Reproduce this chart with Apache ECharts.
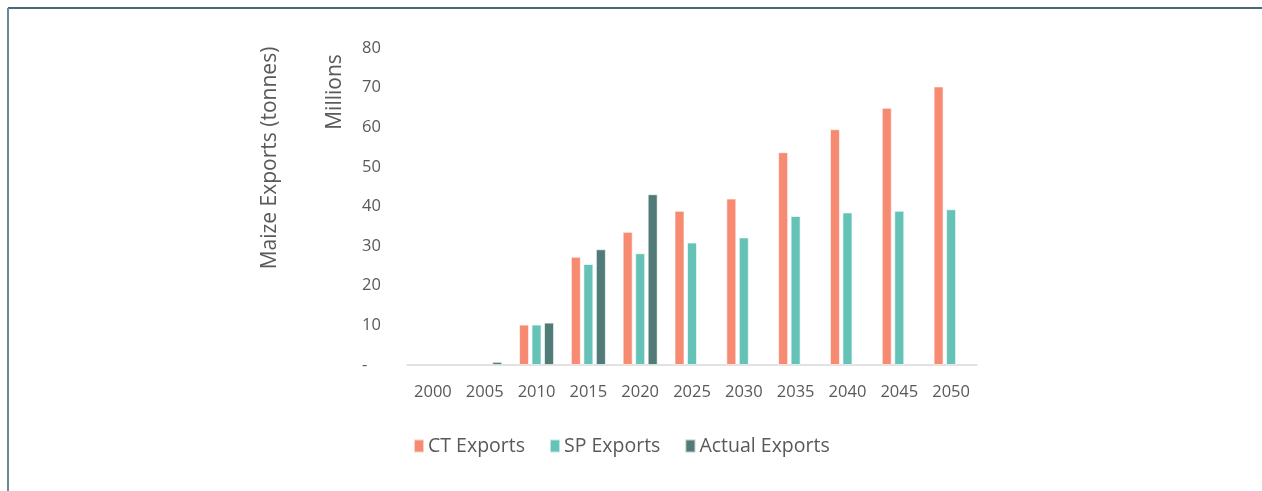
<!DOCTYPE html>
<html>
<head>
<meta charset="utf-8">
<script src="https://cdn.jsdelivr.net/npm/echarts@6/dist/echarts.min.js"></script>
<style>
  html, body { margin: 0; padding: 0; background: #fff; }
  #chart { width: 1262px; height: 491px; }
</style>
</head>
<body>
<div id="chart"></div>
<script>
var years = ['2000', '2005', '2010', '2015', '2020', '2025', '2030', '2035', '2040', '2045', '2050'];
var ctExports = [null, null, 10.2, 27.3, 33.6, 38.9, 42.0, 53.7, 59.5, 64.9, 70.3];
var spExports = [null, null, 10.2, 25.5, 28.2, 30.9, 32.2, 37.6, 38.5, 38.9, 39.3];
var actualExports = [null, 0.8, 10.7, 29.2, 43.1, null, null, null, null, null, null];

var font = '"Open Sans", "Noto Sans", sans-serif';
var textColor = '#595959';

var myChart = echarts.init(document.getElementById('chart'));

function barSeries(name, data, color) {
    return {
        name: name,
        type: 'bar',
        data: data,
        barWidth: 10,
        barGap: '25%',
        itemStyle: {
            color: color,
            borderColor: 'rgba(255,255,255,0.6)',
            borderWidth: 1
        }
    };
}

myChart.setOption({
    backgroundColor: '#ffffff',
    animation: false,
    grid: {
        left: 407,
        right: 285,
        top: 48,
        bottom: 126
    },
    legend: {
        left: 413,
        top: 436,
        padding: 0,
        itemWidth: 10,
        itemHeight: 13,
        itemGap: 24,
        icon: 'rect',
        textStyle: {
            color: textColor,
            fontFamily: font,
            fontSize: 19.5,
            padding: [0, 0, 0, -1]
        },
        data: ['CT Exports', 'SP Exports', 'Actual Exports']
    },
    xAxis: {
        type: 'category',
        data: years,
        axisLine: { lineStyle: { color: '#d9d9d9', width: 1.5 } },
        axisTick: { show: false },
        axisLabel: {
            color: textColor,
            fontFamily: font,
            fontSize: 16.5,
            margin: 19
        }
    },
    yAxis: {
        type: 'value',
        min: 0,
        max: 80,
        interval: 10,
        splitLine: { show: false },
        axisLine: { show: false },
        axisTick: { show: false },
        axisLabel: {
            color: textColor,
            fontFamily: font,
            fontSize: 16.5,
            align: 'left',
            margin: 45,
            formatter: function (v) {
                return v === 0 ? '-' : v;
            }
        }
    },
    graphic: [
        {
            type: 'line',
            shape: { x1: 8, y1: 8, x2: 1262, y2: 8 },
            style: { stroke: '#4b6878', lineWidth: 2 }
        },
        {
            type: 'line',
            shape: { x1: 8, y1: 8, x2: 8, y2: 491 },
            style: { stroke: '#6d8795', lineWidth: 2 }
        },
        {
            type: 'text',
            x: 270,
            y: 158,
            rotation: Math.PI / 2,
            style: {
                text: 'Maize Exports (tonnes)',
                fill: textColor,
                font: '21px ' + font,
                align: 'center',
                verticalAlign: 'middle'
            }
        },
        {
            type: 'text',
            x: 335,
            y: 92,
            rotation: Math.PI / 2,
            style: {
                text: 'Millions',
                fill: textColor,
                font: '21px ' + font,
                align: 'center',
                verticalAlign: 'middle'
            }
        }
    ],
    series: [
        barSeries('CT Exports', ctExports, '#f78b72'),
        barSeries('SP Exports', spExports, '#64c3b6'),
        barSeries('Actual Exports', actualExports, '#517b78')
    ]
});
</script>
</body>
</html>
